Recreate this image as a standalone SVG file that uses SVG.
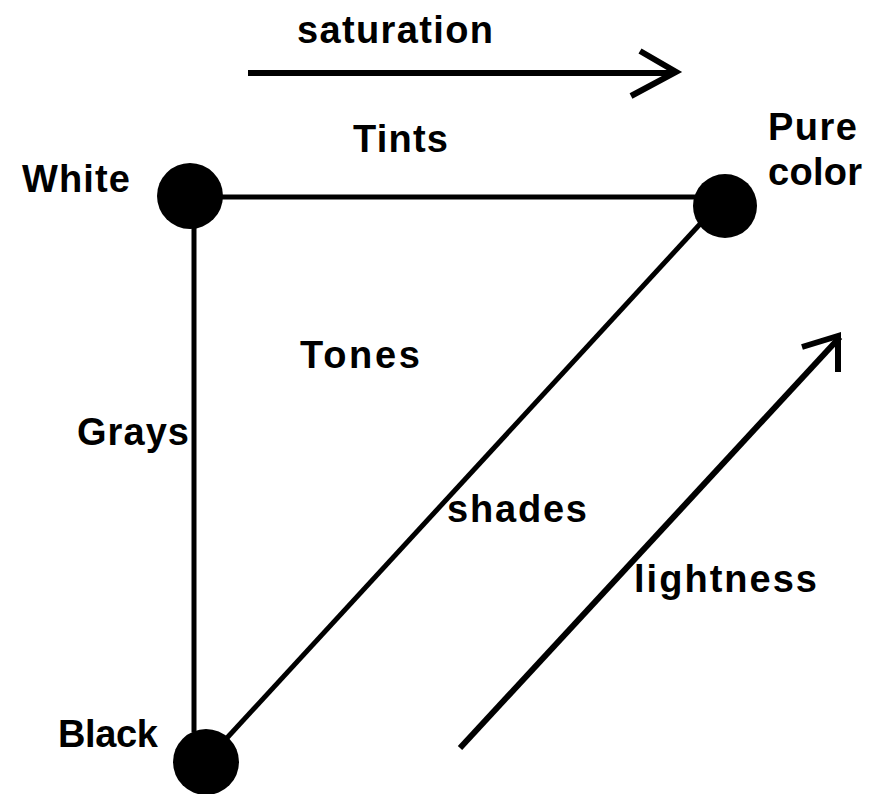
<svg xmlns="http://www.w3.org/2000/svg" width="869" height="794" viewBox="0 0 869 794">
<style>
.lbl{font-family:"Liberation Sans",Arial,sans-serif;font-weight:bold;font-size:38px;fill:#000}
.ln{stroke:#000;stroke-width:5;fill:none;stroke-linecap:butt}
.arw{stroke:#000;stroke-width:6;fill:none;stroke-linecap:butt;stroke-linejoin:miter}
.dot{fill:#000}
</style>
<rect width="869" height="794" fill="#fff"/>
<g id="connectors">
<line class="ln" x1="220" y1="197" x2="697" y2="197"/>
<line class="ln" x1="194" y1="225" x2="194" y2="732"/>
<line class="ln" x1="226" y1="739" x2="701" y2="223"/>
</g>
<g id="saturation-arrow">
<line class="arw" x1="248" y1="73" x2="674" y2="73"/>
<polyline class="arw" points="640,51 676,72 631,96"/>
<text class="lbl" x="297" y="43" textLength="196" lengthAdjust="spacing">saturation</text>
</g>
<g id="lightness-arrow">
<line class="arw" x1="460" y1="748" x2="840" y2="337"/>
<polyline class="arw" points="802,347 838,336 838,372"/>
<text class="lbl" x="634" y="592" textLength="183" lengthAdjust="spacing">lightness</text>
</g>
<g id="node-white">
<circle class="dot" cx="190" cy="196" r="33"/>
<text class="lbl" x="22" y="192" textLength="108" lengthAdjust="spacing">White</text>
</g>
<g id="node-pure">
<circle class="dot" cx="725" cy="206" r="32"/>
<text class="lbl" x="768" y="140" textLength="89" lengthAdjust="spacing">Pure</text>
<text class="lbl" x="768" y="185" textLength="94" lengthAdjust="spacing">color</text>
</g>
<g id="node-black">
<circle class="dot" cx="206" cy="762" r="33"/>
<text class="lbl" x="58" y="747" textLength="100" lengthAdjust="spacing">Black</text>
</g>
<g id="labels">
<text class="lbl" x="353" y="152" textLength="95" lengthAdjust="spacing">Tints</text>
<text class="lbl" x="300" y="368" textLength="120" lengthAdjust="spacing">Tones</text>
<text class="lbl" x="77" y="445" textLength="112" lengthAdjust="spacing">Grays</text>
<text class="lbl" x="447" y="522" textLength="140" lengthAdjust="spacing">shades</text>
</g>
</svg>
